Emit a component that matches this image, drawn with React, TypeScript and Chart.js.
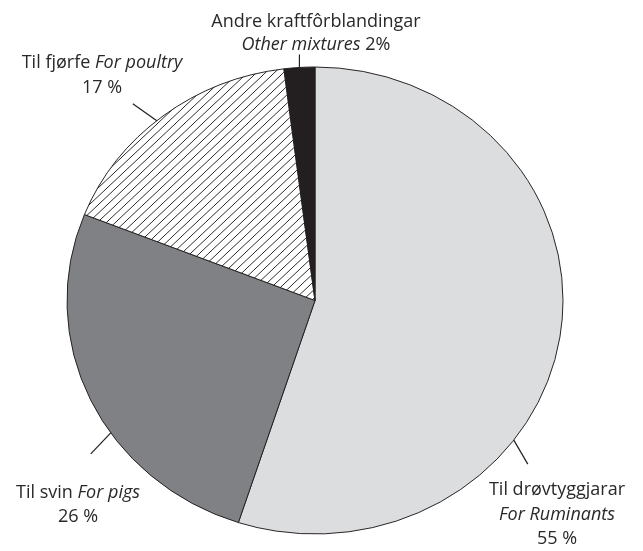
import React, { useEffect, useRef } from "react";
import { Chart, registerables } from "chart.js";

Chart.register(...registerables);

// ---- Data ----
const categoriesNo = ["Til drøvtyggjarar", "Til svin", "Til fjørfe", "Andre kraftfôrblandingar"];
const categoriesEn = ["For Ruminants", "For pigs", "For poultry", "Other mixtures"];
const shares = [55, 26, 17, 2];
const percentSuffix = [" %", " %", " %", "%"];

// ---- Style / layout ----
const INK = "#231f20";
const TEXT_INK = "#2a2829";
const FONT_FAMILY = '"Open Sans", "Noto Sans", sans-serif';
const FONT_SIZE = 18;
const Y_SQUASH = 0.9415; // vertical squash of the pie (ellipse)

type Seg = { t: string; it?: boolean };
// label blocks: center x, first baseline, line height, anchor fraction in slice, leader offset
const labelLayout = [
  { x: 557, y: 495, lh: 24.5, frac: 0.64, dx: 14, dy: 24 },
  { x: 78, y: 498, lh: 24, frac: 0.4, dx: -20, dy: 21 },
  { x: 102, y: 68, lh: 25, frac: 0.47, dx: -24, dy: -17 },
  { x: 316, y: 27, lh: 23, frac: 0.5, dx: 0, dy: -13 },
];

function labelLines(i: number): Seg[][] {
  const pct = `${shares[i]}${percentSuffix[i]}`;
  if (i === 0) return [[{ t: categoriesNo[i] }], [{ t: categoriesEn[i], it: true }], [{ t: pct }]];
  if (i === 3) return [[{ t: categoriesNo[i] }], [{ t: categoriesEn[i], it: true }, { t: " " + pct }]];
  return [[{ t: categoriesNo[i] + " " }, { t: categoriesEn[i], it: true }], [{ t: pct }]];
}

function makeHatch(): CanvasPattern | string {
  const s = 9;
  const c = document.createElement("canvas");
  c.width = s;
  c.height = s;
  const g = c.getContext("2d");
  if (!g) return "#ffffff";
  g.fillStyle = "#ffffff";
  g.fillRect(0, 0, s, s);
  g.strokeStyle = INK;
  g.lineWidth = 1;
  g.beginPath();
  g.moveTo(-1, s + 1);
  g.lineTo(s + 1, -1);
  g.moveTo(-1, 1);
  g.lineTo(1, -1);
  g.moveTo(s - 1, s + 1);
  g.lineTo(s + 1, s - 1);
  g.stroke();
  const p = g.createPattern(c, "repeat");
  return p || "#ffffff";
}

const squashPlugin = {
  id: "squash",
  beforeDatasetsDraw(chart: any) {
    const arc = chart.getDatasetMeta(0).data[0];
    if (!arc) return;
    const ctx = chart.ctx;
    ctx.save();
    ctx.translate(arc.x, arc.y);
    ctx.scale(1, Y_SQUASH);
    ctx.translate(-arc.x, -arc.y);
  },
  afterDatasetsDraw(chart: any) {
    chart.ctx.restore();
  },
};

const labelPlugin = {
  id: "pieLabels",
  afterDraw(chart: any) {
    const ctx: CanvasRenderingContext2D = chart.ctx;
    const meta = chart.getDatasetMeta(0);
    ctx.save();
    meta.data.forEach((arc: any, i: number) => {
      const L = labelLayout[i];
      const { x, y, startAngle, endAngle, outerRadius } = arc.getProps(
        ["x", "y", "startAngle", "endAngle", "outerRadius"],
        true
      );
      const a = startAngle + L.frac * (endAngle - startAngle);
      const ax = x + outerRadius * Math.cos(a);
      const ay = y + outerRadius * Y_SQUASH * Math.sin(a);
      ctx.strokeStyle = INK;
      ctx.lineWidth = 1.2;
      ctx.beginPath();
      ctx.moveTo(ax, ay);
      ctx.lineTo(ax + L.dx, ay + L.dy);
      ctx.stroke();

      const lines = labelLines(i);
      ctx.fillStyle = TEXT_INK;
      ctx.textBaseline = "alphabetic";
      ctx.textAlign = "left";
      lines.forEach((segs, li) => {
        let total = 0;
        const widths = segs.map((s) => {
          ctx.font = `${s.it ? "italic " : ""}${FONT_SIZE}px ${FONT_FAMILY}`;
          const w = ctx.measureText(s.t).width;
          total += w;
          return w;
        });
        let cx = L.x - total / 2;
        const by = L.y + li * L.lh;
        segs.forEach((s, si) => {
          ctx.font = `${s.it ? "italic " : ""}${FONT_SIZE}px ${FONT_FAMILY}`;
          ctx.fillText(s.t, cx, by);
          cx += widths[si];
        });
      });
    });
    ctx.restore();
  },
};

export default function App() {
  const ref = useRef<HTMLCanvasElement | null>(null);
  useEffect(() => {
    if (!ref.current) return;
    const chart = new Chart(ref.current, {
      type: "pie",
      data: {
        labels: categoriesNo.map((n, i) => `${n} ${categoriesEn[i]}`),
        datasets: [
          {
            data: shares,
            backgroundColor: ["#dcdddf", "#808184", makeHatch() as any, INK],
            borderColor: INK,
            borderWidth: 1,
          },
        ],
      },
      options: {
        responsive: false,
        animation: false,
        radius: 248,
        layout: { padding: { left: 0, right: 13, top: 50, bottom: 0 } },
        plugins: {
          legend: { display: false },
          tooltip: { enabled: false },
          title: { display: false },
        },
      } as any,
      plugins: [squashPlugin, labelPlugin],
    });
    return () => chart.destroy();
  }, []);
  return (
    <div style={{ position: "absolute", left: 0, top: 0, width: 643, height: 551, background: "#fff" }}>
      <canvas ref={ref} width={643} height={551} style={{ display: "block" }} />
    </div>
  );
}
